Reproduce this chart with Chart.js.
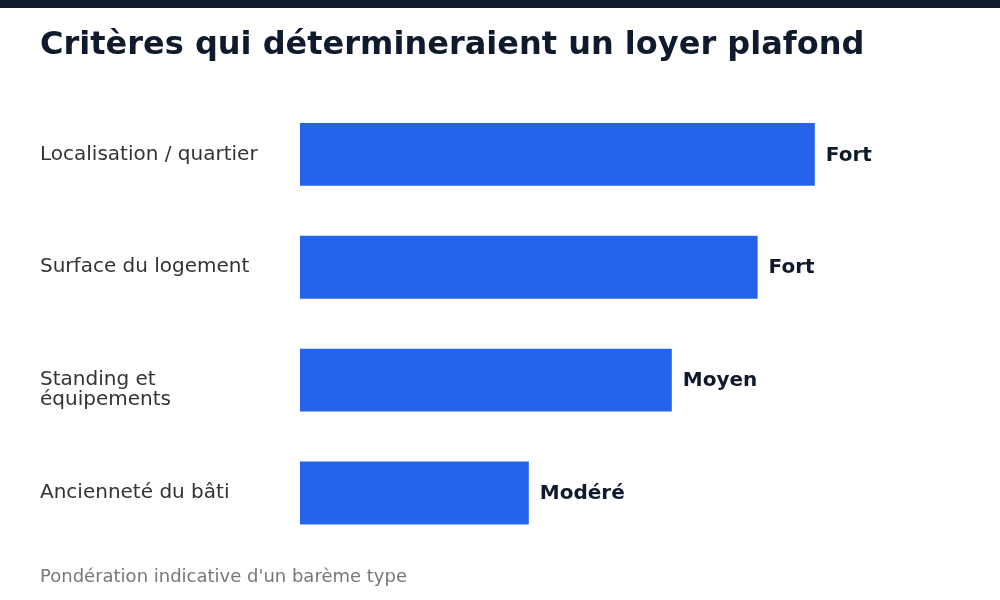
<!DOCTYPE html>
<html lang="fr">
<head>
<meta charset="utf-8">
<title>Critères qui détermineraient un loyer plafond</title>
<script src="https://cdn.jsdelivr.net/npm/chart.js@4"></script>
<style>
  html, body { margin: 0; padding: 0; background: #ffffff; }
  #wrap { position: relative; width: 1000px; height: 600px; }
  #topbar { position: absolute; left: 0; top: 0; width: 1000px; height: 8px; background: #0f1b2d; }
  canvas { display: block; }
</style>
</head>
<body>
<div id="wrap">
  <canvas id="graphique" width="1000" height="600"></canvas>
  <div id="topbar"></div>
</div>
<script>
// Données du graphique
// (ligne vide en tête pour que "Standing et" reste centré sur la barre)
const criteres = ['Localisation / quartier', 'Surface du logement', ['', 'Standing et', 'équipements'], 'Ancienneté du bâti'];
const poids = [90, 80, 65, 40];
const niveaux = ['Fort', 'Fort', 'Moyen', 'Modéré'];

const FONT = "'DejaVu Sans', sans-serif";

// Affiche le niveau à droite de chaque barre
const etiquettes = {
  id: 'etiquettes',
  afterDatasetsDraw(chart) {
    const ctx = chart.ctx;
    const meta = chart.getDatasetMeta(0);
    ctx.save();
    ctx.font = 'bold 20px ' + FONT;
    ctx.fillStyle = '#0f1b2d';
    ctx.textAlign = 'left';
    ctx.textBaseline = 'middle';
    meta.data.forEach((bar, i) => {
      ctx.fillText(niveaux[i], bar.x + 11, bar.y + 1);
    });
    ctx.restore();
  }
};

const ctx = document.getElementById('graphique').getContext('2d');
new Chart(ctx, {
  type: 'bar',
  data: {
    labels: criteres,
    datasets: [{
      data: poids,
      backgroundColor: '#2563eb',
      borderWidth: 0,
      barPercentage: 0.557,
      categoryPercentage: 1
    }]
  },
  options: {
    indexAxis: 'y',
    responsive: false,
    animation: false,
    layout: { padding: { left: 40, right: 128, top: 0, bottom: 12 } },
    scales: {
      x: { display: false, min: 0, max: 100 },
      y: {
        grid: { display: false },
        border: { display: false },
        afterFit(scale) { scale.width = 260; },
        ticks: {
          crossAlign: 'far',
          color: '#333333',
          font: { family: FONT, size: 20, lineHeight: 1.0 }
        }
      }
    },
    plugins: {
      legend: { display: false },
      tooltip: { enabled: false },
      title: {
        display: true,
        text: 'Critères qui détermineraient un loyer plafond',
        align: 'start',
        color: '#0f1b2d',
        font: { family: FONT, size: 32, weight: 'bold', lineHeight: 1.2 },
        padding: { top: 26, bottom: 33.5 }
      },
      subtitle: {
        display: true,
        position: 'bottom',
        text: "Pondération indicative d'un barème type",
        align: 'start',
        color: '#777777',
        font: { family: FONT, size: 18, lineHeight: 1.2 },
        padding: { top: 17, bottom: 0 }
      }
    }
  },
  plugins: [etiquettes]
});
</script>
</body>
</html>
